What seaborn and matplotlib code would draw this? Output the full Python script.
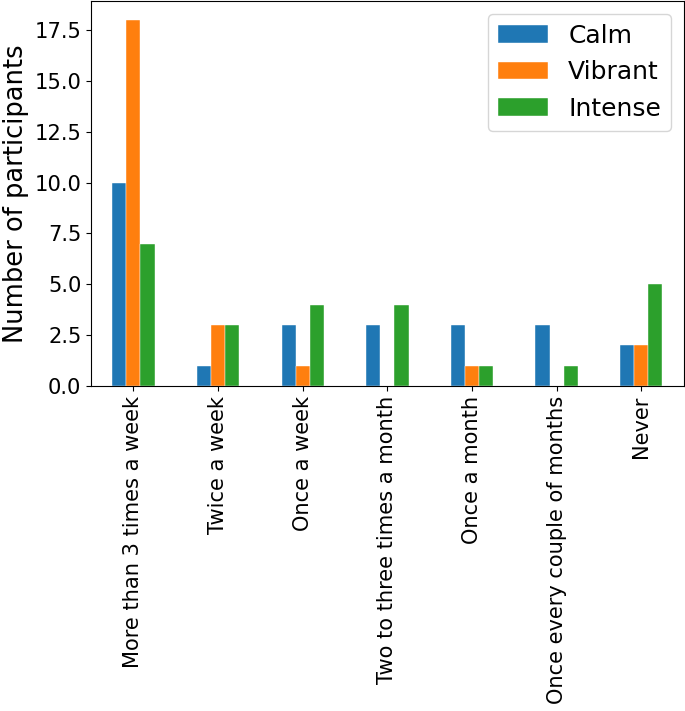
import numpy as np
import pandas as pd
import matplotlib
matplotlib.use("Agg")
import matplotlib.pyplot as plt
import seaborn as sns

categories = ["More than 3 times a week", "Twice a week", "Once a week",
              "Two to three times a month", "Once a month",
              "Once every couple of months", "Never"]
calm = [10, 1, 3, 3, 3, 3, 2]
vibrant = [18, 3, 1, 0, 1, 0, 2]
intense = [7, 3, 4, 4, 1, 1, 5]
series_names = ["Calm", "Vibrant", "Intense"]
palette = ["#1f77b4", "#ff7f0e", "#2ca02c"]

df = pd.DataFrame({
    "frequency": categories * 3,
    "count": calm + vibrant + intense,
    "mood": [s for s in series_names for _ in categories],
})

plt.rcParams["font.family"] = ["DejaVu Sans"]
fig, ax = plt.subplots(figsize=(6.85, 7.11), dpi=100)

sns.barplot(data=df, x="frequency", y="count", hue="mood", order=categories,
            hue_order=series_names, palette=palette, width=0.5, gap=0,
            saturation=1, edgecolor="white", linewidth=0.3, ax=ax)

ax.set_xlim(-0.5, len(categories) - 0.5)
ax.set_ylim(0, 18.9)
ax.set_yticks(np.arange(0, 18, 2.5))
ax.set_yticklabels([f"{v:.1f}" for v in np.arange(0, 18, 2.5)])
ax.set_xlabel("")
ax.set_ylabel("Number of participants", fontsize=18.5)
ax.tick_params(axis="both", labelsize=15.1)
ax.tick_params(axis="x", rotation=90)

ax.legend(loc="upper right", fontsize=18, handlelength=2.0, framealpha=0.8,
          borderaxespad=0.5)

fig.subplots_adjust(left=0.133, right=0.998, top=0.998, bottom=0.457)
fig.savefig("out.png", dpi=100)
